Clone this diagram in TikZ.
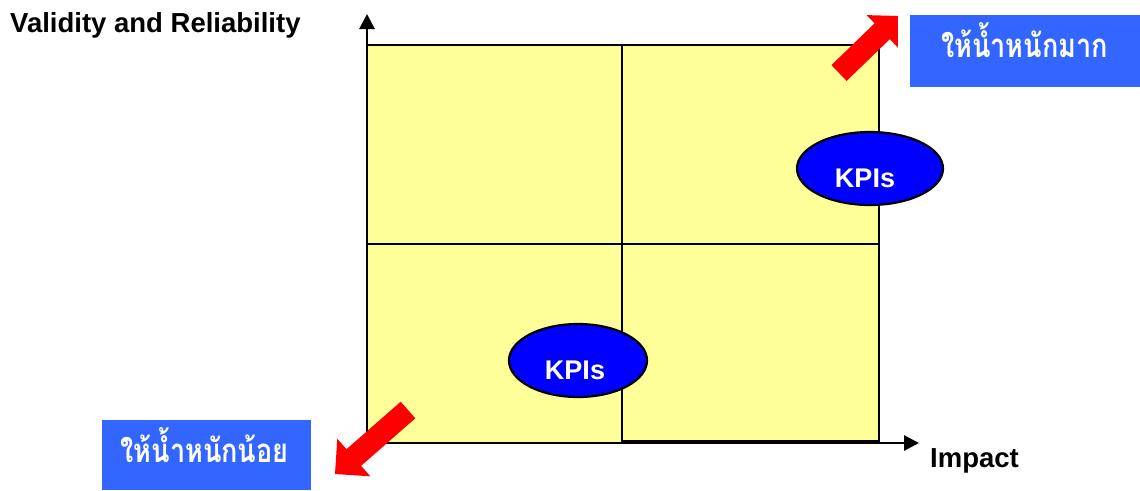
\documentclass[tikz,border=0pt]{standalone}
\usepackage{fontspec}
\usepackage{graphicx}
\setmainfont{Liberation Sans}
\newfontfamily\thaifont[Script=Thai]{Loma}
\usetikzlibrary{arrows.meta,shapes.geometric}
\definecolor{quad}{HTML}{FFFF99}
\definecolor{boxblue}{HTML}{3366FF}
\definecolor{ellblue}{HTML}{0000FF}
\definecolor{arrred}{HTML}{FF0000}
\newcommand{\thaitxt}[1]{\scalebox{0.82}[1]{\thaifont\bfseries\fontsize{33}{36}\selectfont #1}}
\tikzset{
  quadline/.style={draw=black,line width=2.8pt,fill=quad},
  axis/.style={line width=2.8pt,-{Triangle[length=15pt,width=15pt]}},
  kpi/.style={ellipse,draw=black,line width=2.2pt,fill=ellblue,inner sep=0pt},
  kpitext/.style={anchor=base,text=white,font=\bfseries\fontsize{27}{30}\selectfont,inner sep=0pt},
  thaibox/.style={fill=boxblue,inner sep=0pt},
  thaitext/.style={anchor=base,text=white,inner sep=0pt},
  axlabel/.style={anchor=base west,font=\bfseries\fontsize{27.5}{30}\selectfont,inner sep=0pt}
}
\begin{document}
\begin{tikzpicture}[x=1pt,y=-1pt]
\useasboundingbox (0,0) rectangle (1140,490);
% quadrants
\filldraw[quadline] (367,45) rectangle (622,244);
\filldraw[quadline] (622,45) rectangle (879,244);
\filldraw[quadline] (367,244) rectangle (622,443);
\filldraw[quadline] (622,244) rectangle (879,441);
% axes
\coordinate (o) at (367,443);
\coordinate (ytop) at (367,14);
\coordinate (xend) at (919,443);
\draw[axis] (o) -- (ytop);
\draw[axis] (o) -- (xend);
% labels
\node[axlabel] (vr) at (10,32) {Validity and Reliability};
\node[axlabel] (imp) at (930,467) {Impact};
% ellipses
\node[kpi,minimum width=146pt,minimum height=73pt] (k1) at (870,168.5) {};
\node[kpitext] (k1t) at (865,187) {KPIs};
\node[kpi,minimum width=138pt,minimum height=73pt] (k2) at (578,360.5) {};
\node[kpitext] (k2t) at (575,379) {KPIs};
% blue boxes
\node[thaibox,minimum width=230pt,minimum height=72pt] (hi) at (1025,51) {};
\node[thaitext] (hit) at (1024.5,57) {\thaitxt{ให้น้ำหนักมาก}};
\node[thaibox,minimum width=209pt,minimum height=70pt] (lo) at (206.5,455) {};
\node[thaitext] (lot) at (204.5,462) {\thaitxt{ให้น้ำหนักน้อย}};
% red block arrows
\fill[arrred] (831.4,65.1) -- (874.6,23.4) -- (866.6,15.1) -- (898,16) -- (897.8,47.5) -- (889.8,39.2) -- (846.6,80.9) -- cycle;
\fill[arrred] (400.7,401.7) -- (346.5,449.2) -- (337.3,438.7) -- (335,474) -- (370.3,476.3) -- (361.1,465.8) -- (415.3,418.3) -- cycle;
\end{tikzpicture}
\end{document}
